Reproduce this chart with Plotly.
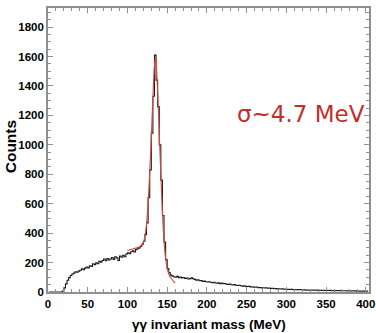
import numpy as np
import plotly.graph_objects as go

# Histogram of the two-photon invariant mass, 2 MeV bins (bin centres 1 ... 403 MeV)
bin_width = 2
mass_centres = np.arange(1, 404, bin_width)
counts = [
    0, 0, 0, 0, 0, 0, 0, 0, 0, 6,
    28, 55, 80, 98, 112, 122, 128, 138, 134, 142,
    148, 158, 152, 162, 170, 164, 178, 174, 192, 186,
    198, 192, 208, 203, 214, 224, 212, 228, 218, 224,
    234, 222, 240, 232, 214, 244, 236, 250, 240, 258,
    266, 260, 274, 280, 272, 288, 294, 300, 310, 325,
    345, 390, 470, 640, 830, 1080, 1330, 1610, 1440, 1260,
    1000, 760, 520, 340, 220, 160, 130, 115, 108, 104,
    100, 106, 98, 102, 96, 99, 92, 95, 88, 91,
    96, 90, 86, 80, 83, 76, 78, 72, 74, 70,
    68, 70, 66, 63, 66, 61, 60, 62, 57, 60,
    56, 58, 53, 52, 54, 49, 48, 50, 46, 44,
    46, 42, 40, 42, 38, 37, 38, 35, 36, 33,
    32, 34, 30, 31, 28, 29, 27, 28, 25, 26,
    24, 25, 22, 23, 21, 22, 20, 21, 19, 20,
    18, 19, 17, 18, 16, 17, 15, 16, 15, 16,
    14, 15, 13, 14, 13, 14, 12, 13, 12, 13,
    11, 12, 11, 12, 10, 11, 10, 11, 9, 10,
    9, 10, 9, 10, 8, 9, 8, 9, 7, 8,
    7, 8, 7, 8, 6, 7, 6, 7, 6, 6,
    5, 6,
]

# Fitted pi0 peak (Gaussian plus background)
fit_mass = [100, 104, 108, 112, 116, 118, 120, 122, 124, 126, 128, 130, 132, 134,
            135, 136, 138, 140, 142, 144, 146, 148, 150, 152, 154, 156, 158, 160]
fit_counts = [282, 289, 295, 301, 309, 318, 336, 378, 460, 610, 810, 1050, 1320, 1540,
              1590, 1560, 1360, 1080, 800, 540, 350, 230, 160, 122, 100, 86, 72, 60]

x_ticks = [0, 50, 100, 150, 200, 250, 300, 350, 400]
y_ticks = [0, 200, 400, 600, 800, 1000, 1200, 1400, 1600, 1800]

narrow = "Liberation Sans Narrow, Arial Narrow, Liberation Sans, Arial"
tick_font = dict(family=narrow, size=11.5, color="black", weight="bold")
frame = "#8f8f8f"

fig = go.Figure()
fig.add_trace(go.Scatter(
    x=mass_centres, y=counts, mode="lines",
    line=dict(color="#1a1a1a", width=1.1, shape="hvh"),
    hoverinfo="x+y", showlegend=False,
))
fig.add_trace(go.Scatter(
    x=fit_mass, y=fit_counts, mode="lines",
    line=dict(color="#d8463c", width=1.1, shape="spline", smoothing=0.8),
    showlegend=False,
))

axis_common = dict(
    showline=True, linecolor=frame, linewidth=1.6, mirror="ticks",
    ticks="inside", tickcolor=frame, ticklen=5, tickwidth=1,
    showgrid=False, zeroline=False, tickfont=tick_font,
    ticklabeloverflow="allow",
)
fig.update_xaxes(range=[0, 404], tickvals=x_ticks,
                 minor=dict(dtick=10, ticks="inside", ticklen=3, tickcolor=frame),
                 **axis_common)
fig.update_yaxes(range=[0, 1930], tickvals=y_ticks,
                 minor=dict(dtick=50, ticks="inside", ticklen=3, tickcolor=frame),
                 **axis_common)

fig.add_annotation(
    text="γγ invariant mass (MeV)", xref="paper", yref="paper",
    x=0.5, y=-0.115, xanchor="center", yanchor="middle", showarrow=False,
    font=dict(family=narrow, size=13.5, color="black", weight="bold"),
)
fig.add_annotation(
    text="Counts", xref="paper", yref="paper",
    x=-0.118, y=0.51, xanchor="center", yanchor="middle", showarrow=False,
    textangle=-90,
    font=dict(family="Liberation Sans, Arial", size=15.5, color="black", weight="bold"),
)
fig.add_annotation(
    text="σ~4.7 MeV", xref="paper", yref="paper",
    x=0.787, y=0.627, xanchor="center", yanchor="middle", showarrow=False,
    font=dict(family="DejaVu Sans", size=23, color="#c0302a"),
)

fig.update_layout(
    width=376, height=333,
    margin=dict(l=48, r=1, t=8, b=41),
    paper_bgcolor="white", plot_bgcolor="white",
)

fig.write_html("out.html")
